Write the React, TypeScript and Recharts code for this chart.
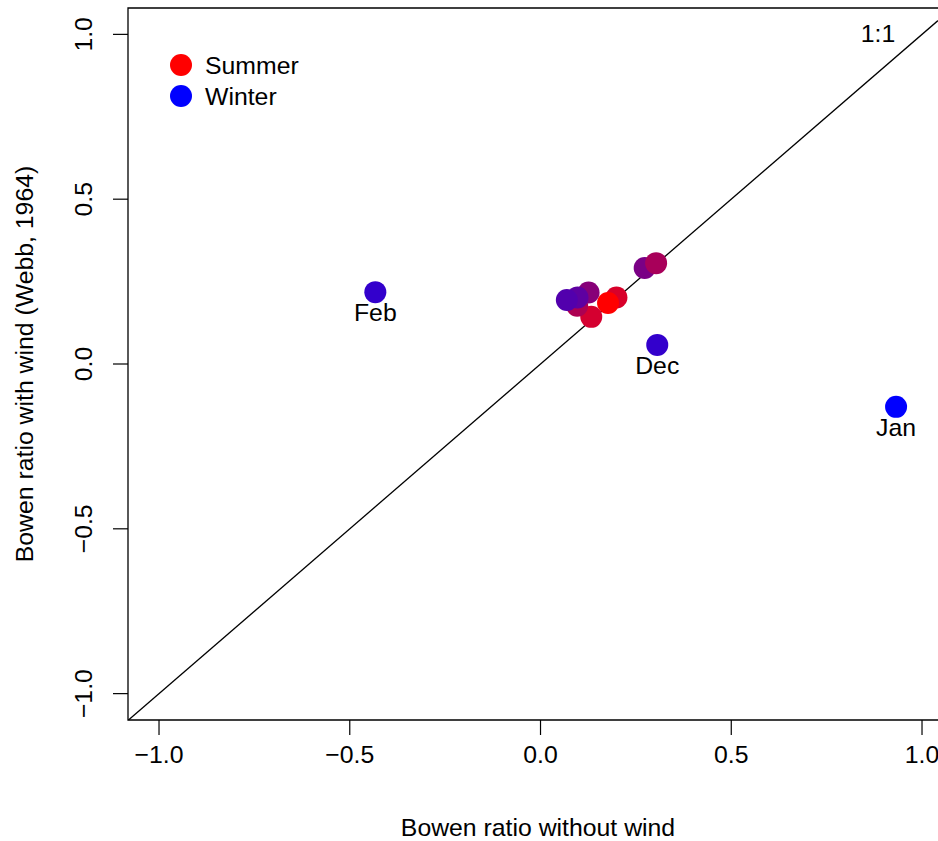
import React from 'react';
import {
    ScatterChart,
    Scatter,
    XAxis,
    YAxis,
    ReferenceLine,
    ReferenceArea,
} from 'recharts';

const months = ['Jan', 'Feb', 'Mar', 'Apr', 'May', 'Jun', 'Jul', 'Aug', 'Sep', 'Oct', 'Nov', 'Dec'];
const withoutWind = [0.932, -0.433, 0.273, 0.303, 0.199, 0.177, 0.133, 0.096, 0.126, 0.097, 0.069, 0.306];
const withWind = [-0.13, 0.218, 0.291, 0.306, 0.202, 0.185, 0.143, 0.177, 0.217, 0.202, 0.194, 0.058];
const colors = ['#0000FF', '#3300CC', '#7A0085', '#A8005A', '#D8002A', '#FF0000', '#D50030', '#AD0052', '#870078', '#5E00A1', '#5200AD', '#3300CC'];
const shownLabels = ['Jan', 'Feb', 'Dec'];
const ticks = [-1, -0.5, 0, 0.5, 1];
const legendItems = [
    { name: 'Summer', color: '#FF0000' },
    { name: 'Winter', color: '#0000FF' },
];

const xDomain = [-1.0813, 1.0419];
const yDomain = [-1.08, 1.08];

const FONT = '"Liberation Sans", Arial, Helvetica, sans-serif';
const FS = 24.8;

const data = months.map((m, i) => ({
    month: m,
    x: withoutWind[i],
    y: withWind[i],
    color: colors[i],
    label: shownLabels.includes(m) ? m : '',
}));

const fmt = (v: number) => v.toFixed(1).replace('-', '\u2212');

const Dot = (props: any) => {
    const { cx, cy, payload } = props;
    return (
        <g>
            <circle cx={cx} cy={cy} r={11} fill={payload.color} />
            {payload.label && (
                <text x={cx} y={cy + 29} textAnchor="middle" fontSize={FS} fontFamily={FONT} fill="#000">
                    {payload.label}
                </text>
            )}
        </g>
    );
};

const YTick = (props: any) => {
    const { y, payload } = props;
    return (
        <text
            x={92}
            y={y}
            transform={`rotate(-90, 92, ${y})`}
            textAnchor="middle"
            fontSize={FS}
            fontFamily={FONT}
            fill="#000"
        >
            {fmt(payload.value)}
        </text>
    );
};

const LegendBox = () => (
    <svg width={330} height={120} style={{ position: 'absolute', left: 0, top: 0 }}>
        {legendItems.map((it, i) => (
            <g key={it.name}>
                <circle cx={181} cy={65 + i * 31} r={11} fill={it.color} />
                <text x={205} y={74 + i * 31} fontSize={FS} fontFamily={FONT} fill="#000">{it.name}</text>
            </g>
        ))}
    </svg>
);

const App = () => {
    return (
        <div style={{ position: 'absolute', left: 0, top: 0, width: 938, height: 841, background: '#fff', overflow: 'hidden' }}>
            <ScatterChart width={938} height={841} margin={{ top: 8, right: 0, bottom: 0, left: 0 }}>
                <XAxis
                    type="number"
                    dataKey="x"
                    domain={xDomain}
                    allowDataOverflow
                    ticks={ticks}
                    tickFormatter={fmt}
                    axisLine={false}
                    tickLine={{ stroke: '#000', strokeWidth: 1.2 }}
                    tickSize={15}
                    tickMargin={10}
                    height={121}
                    tick={{ fontSize: FS, fontFamily: FONT, fill: '#000' }}
                    label={(p: any) => {
                        const vb = p.viewBox;
                        return (
                            <text x={vb.x + vb.width / 2 + 5} y={vb.y + 116} textAnchor="middle" fontSize={FS} fontFamily={FONT} fill="#000">
                                Bowen ratio without wind
                            </text>
                        );
                    }}
                />
                <YAxis
                    type="number"
                    dataKey="y"
                    domain={yDomain}
                    allowDataOverflow
                    ticks={ticks}
                    axisLine={false}
                    tickLine={{ stroke: '#000', strokeWidth: 1.2 }}
                    tickSize={15}
                    width={128}
                    tick={<YTick />}
                    label={(p: any) => {
                        const vb = p.viewBox;
                        const cy = vb.y + vb.height / 2;
                        return (
                            <text x={33} y={cy} transform={`rotate(-90, 33, ${cy})`} textAnchor="middle" fontSize={FS} fontFamily={FONT} fill="#000">
                                Bowen ratio with wind (Webb, 1964)
                            </text>
                        );
                    }}
                />
                <ReferenceArea
                    x1={xDomain[0]}
                    x2={1.08}
                    y1={yDomain[0]}
                    y2={yDomain[1]}
                    ifOverflow="visible"
                    fill="none"
                    fillOpacity={0}
                    stroke="#000"
                    strokeWidth={1.3}
                />
                <Scatter data={data} shape={<Dot />} isAnimationActive={false} />
                <ReferenceLine
                    segment={[{ x: -1.08, y: -1.08 }, { x: 1.0419, y: 1.0419 }]}
                    stroke="#000"
                    strokeWidth={1.3}
                    label={() => (
                        <text x={878} y={42} textAnchor="middle" fontSize={FS} fontFamily={FONT} fill="#000">1:1</text>
                    )}
                />
            </ScatterChart>
            <LegendBox />
        </div>
    );
};

export default App;
